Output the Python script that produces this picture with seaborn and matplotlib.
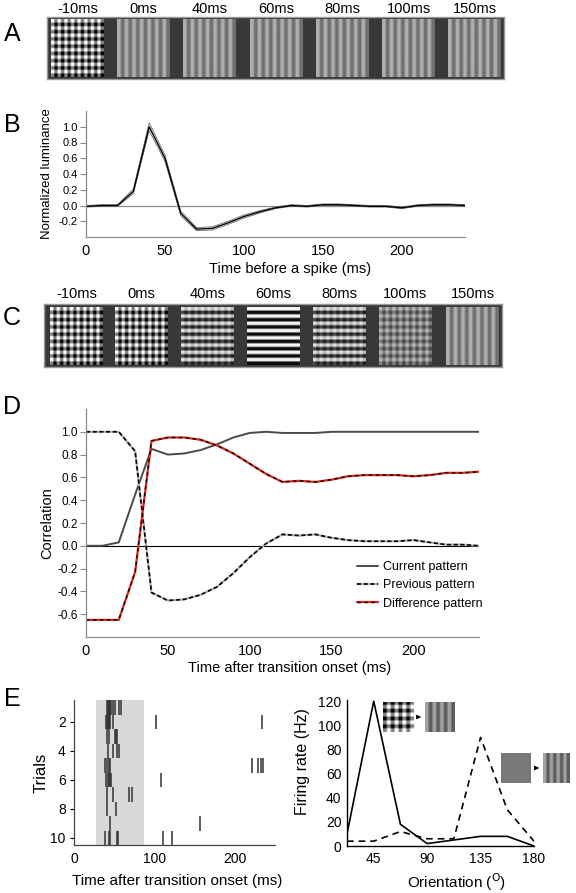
"""
Figure: pattern transition, spike-triggered luminance, correlation and tuning
"""

import numpy as np
import pandas as pd
import matplotlib
matplotlib.use("Agg")
import matplotlib.pyplot as plt
import seaborn as sns
from matplotlib.lines import Line2D
from matplotlib.patches import FancyArrowPatch

# ---------------- data ----------------
tile_labels = ["-10ms", "0ms", "40ms", "60ms", "80ms", "100ms", "150ms"]

# pattern contrast per tile: (vertical, horizontal, mean, periods)
a_tiles = [(0.25, 0.25, 0.5, 8)] + [(0.12, 0.0, 0.56, 7)] * 6
c_tiles = [(0.25, 0.25, 0.5, 8), (0.25, 0.25, 0.5, 8), (0.08, 0.30, 0.5, 8),
           (0.0, 0.45, 0.5, 8), (0.08, 0.30, 0.5, 8), (0.11, 0.11, 0.5, 8),
           (0.12, 0.0, 0.56, 7)]

# B: spike-triggered normalized luminance
b_time = list(range(0, 250, 10))
b_mean = [-0.01, 0.0, 0.0, 0.18, 1.0, 0.6, -0.1, -0.3, -0.29, -0.22,
          -0.14, -0.08, -0.03, 0.0, -0.01, 0.01, 0.01, 0.0, -0.01, -0.01,
          -0.03, 0.0, 0.01, 0.01, 0.0]
b_sem = [0.01, 0.01, 0.01, 0.03, 0.05, 0.04, 0.03, 0.02, 0.02, 0.02,
         0.02, 0.015, 0.01, 0.01, 0.01, 0.01, 0.01, 0.01, 0.01, 0.01,
         0.01, 0.01, 0.01, 0.01, 0.01]

# D: correlation with patterns
d_time = list(range(0, 250, 10))
d_current = [0.0, 0.0, 0.03, 0.45, 0.85, 0.8, 0.81, 0.84, 0.89, 0.95,
             0.99, 1.0, 0.99, 0.99, 0.99, 1.0, 1.0, 1.0, 1.0, 1.0,
             1.0, 1.0, 1.0, 1.0, 1.0]
d_previous = [1.0, 1.0, 1.0, 0.83, -0.41, -0.48, -0.47, -0.43, -0.36, -0.24,
              -0.1, 0.02, 0.1, 0.09, 0.1, 0.07, 0.05, 0.04, 0.04, 0.04,
              0.05, 0.03, 0.01, 0.01, 0.0]
d_difference = [-0.65, -0.65, -0.65, -0.23, 0.92, 0.95, 0.95, 0.93, 0.88, 0.81,
                0.72, 0.63, 0.56, 0.57, 0.56, 0.58, 0.61, 0.62, 0.62, 0.62,
                0.61, 0.62, 0.64, 0.64, 0.65]

# E left: spike raster
e_trials = list(range(1, 11))
e_spikes = [
    [41, 42, 43, 44, 45, 46, 49, 51, 56, 58],
    [40, 41, 42, 43, 44, 45, 49, 102, 234],
    [41, 44, 51, 52, 53],
    [42, 48, 53, 56],
    [39, 41, 43, 45, 222, 229, 232, 235],
    [40, 42, 44, 45, 46, 108],
    [41, 49, 69, 72],
    [41, 52],
    [45, 157],
    [39, 43, 45, 53, 55, 111, 122],
]
e_window = (27, 87)

# E right: orientation tuning
e_orient = [22.5, 45, 67.5, 90, 112.5, 135, 157.5, 180]
e_rate_plaid = [10, 120, 18, 2, 5, 8, 8, 0]
e_rate_blank = [4, 4, 12, 6, 6, 90, 30, 4]

# ---------------- helpers ----------------
W, H = 576, 893


def px_axes(fig, x0, y0, x1, y1):
    return fig.add_axes([x0 / W, 1 - y1 / H, (x1 - x0) / W, (y1 - y0) / H])


def pattern(va, ha, base=0.5, n=8):
    k = np.arange(n * 4)
    sq = np.where((k % 4) < 2, 1.0, -1.0)
    img = base + va * sq[None, :] + ha * sq[:, None]
    return np.clip(img, 0, 1)


def draw_strip(fig, box, tiles, labels, x0s, width, ytile, ylab):
    ax = px_axes(fig, *box)
    ax.set_facecolor("#383838")
    for x0, (va, ha, base, n), lab in zip(x0s, tiles, labels):
        ax.imshow(pattern(va, ha, base, n), cmap="gray", vmin=0, vmax=1,
                  extent=(x0, x0 + width, ytile[1], ytile[0]),
                  interpolation="bilinear", aspect="auto")
        ax.text(x0 + width / 2, ylab, lab, ha="center", va="center",
                fontsize=10.5, clip_on=False)
    ax.set_xlim(box[0], box[2])
    ax.set_ylim(box[3], box[1])
    ax.set_xticks([])
    ax.set_yticks([])
    for s in ax.spines.values():
        s.set_visible(True)
        s.set_color("#9a9a9a")
        s.set_linewidth(1.0)
    return ax


def inset_tile(fig, box, img):
    ax = px_axes(fig, *box)
    ax.imshow(img, cmap="gray", vmin=0, vmax=1, interpolation="bilinear",
              aspect="auto")
    ax.axis("off")


def arrow(fig, x0, x1, y):
    fig.add_artist(FancyArrowPatch((x0 / W, 1 - y / H), (x1 / W, 1 - y / H),
                                   transform=fig.transFigure, arrowstyle="-|>",
                                   mutation_scale=6, lw=0.8, color="k"))


def style_spines(ax, color, lw=0.9):
    for side in ["top", "right"]:
        ax.spines[side].set_visible(False)
    for side in ["left", "bottom"]:
        ax.spines[side].set_color(color)
        ax.spines[side].set_linewidth(lw)


# ---------------- figure ----------------
sns.set_style("ticks")
plt.rcParams["font.family"] = ["Liberation Sans", "DejaVu Sans"]
plt.rcParams["text.color"] = "black"
plt.rcParams["axes.labelcolor"] = "black"
plt.rcParams["xtick.color"] = "black"
plt.rcParams["ytick.color"] = "black"

fig = plt.figure(figsize=(W / 100, H / 100), dpi=100)

for letter, (x, y) in zip("ABCDE", [(12, 34), (12, 125), (12, 318), (12, 407), (12, 699)]):
    fig.text(x / W, 1 - y / H, letter, fontsize=18, ha="center", va="center")

# A
a_x0 = [51, 117, 183, 250, 316, 382, 448]
draw_strip(fig, (47, 17, 504, 79), a_tiles, tile_labels, a_x0, 53, (19, 77), 9)

# C
c_x0 = [50, 115, 181, 247, 313, 379, 446]
draw_strip(fig, (44, 304, 502, 367), c_tiles, tile_labels, c_x0, 53, (307, 365), 294)

# B
axb = px_axes(fig, 86, 111, 465, 237)
dfb = pd.DataFrame({"t": b_time, "m": b_mean, "s": b_sem})
axb.axhline(0, color="#8c8c8c", lw=0.9)
sns.lineplot(x=dfb["t"], y=dfb["m"] + dfb["s"], ax=axb, color="#6e6e6e", lw=0.6)
sns.lineplot(x=dfb["t"], y=dfb["m"] - dfb["s"], ax=axb, color="#6e6e6e", lw=0.6)
sns.lineplot(data=dfb, x="t", y="m", ax=axb, color="black", lw=1.0)
axb.set_xlim(0, 240)
axb.set_ylim(-0.4, 1.2)
axb.set_xticks([0, 50, 100, 150, 200])
axb.set_yticks([-0.2, 0.0, 0.2, 0.4, 0.6, 0.8, 1.0])
axb.set_yticklabels(["-0.2", "0.0", "0.2", "0.4", "0.6", "0.8", "1.0"])
axb.tick_params(axis="x", length=0, labelsize=10.5, pad=5)
axb.tick_params(axis="y", length=4, width=0.8, color="#8c8c8c", labelsize=8, pad=2)
axb.set_xlabel("Time before a spike (ms)", fontsize=10.5)
axb.set_ylabel("Normalized luminance", fontsize=9.5)
axb.xaxis.set_label_coords(0.538, -0.2)
axb.yaxis.set_label_coords(-0.087, 0.5)
style_spines(axb, "#8c8c8c")

# D
axd = px_axes(fig, 86, 409, 479, 637)
dfd = pd.DataFrame({"t": d_time, "cur": d_current, "prev": d_previous,
                    "diff": d_difference})
axd.axhline(0, color="black", lw=0.8)
sns.lineplot(data=dfd, x="t", y="cur", ax=axd, color="#4a4a4a", lw=1.4)
sns.lineplot(data=dfd, x="t", y="prev", ax=axd, color="#b5b5b5", lw=1.6)
sns.lineplot(data=dfd, x="t", y="prev", ax=axd, color="black", lw=1.2,
             linestyle=(0, (2.5, 1.5)))
sns.lineplot(data=dfd, x="t", y="diff", ax=axd, color="#e0241b", lw=1.6)
sns.lineplot(data=dfd, x="t", y="diff", ax=axd, color="black", lw=1.0,
             linestyle=(0, (2.5, 2.5)))
axd.set_xlim(0, 240)
axd.set_ylim(-0.8, 1.2)
axd.set_xticks([0, 50, 100, 150, 200])
axd.set_yticks([-0.6, -0.4, -0.2, 0.0, 0.2, 0.4, 0.6, 0.8, 1.0])
axd.set_yticklabels(["-0.6", "-0.4", "-0.2", "0.0", "0.2", "0.4", "0.6", "0.8", "1.0"])
axd.tick_params(axis="x", length=0, labelsize=10.5, pad=5)
axd.tick_params(axis="y", length=4, width=0.8, color="#8c8c8c", labelsize=8.5, pad=2)
axd.set_xlabel("Time after transition onset (ms)", fontsize=10.5)
axd.set_ylabel("Correlation", fontsize=10.5)
axd.xaxis.set_label_coords(0.519, -0.105)
axd.yaxis.set_label_coords(-0.082, 0.5)
style_spines(axd, "#8c8c8c")

h_cur = Line2D([], [], color="#4a4a4a", lw=1.4)
h_prev = (Line2D([], [], color="#b5b5b5", lw=1.6),
          Line2D([], [], color="black", lw=1.2, linestyle=(0, (2.5, 1.5))))
h_diff = (Line2D([], [], color="#e0241b", lw=1.6),
          Line2D([], [], color="black", lw=1.0, linestyle=(0, (2.5, 2.5))))
axd.legend([h_cur, h_prev, h_diff],
           ["Current pattern", "Previous pattern", "Difference pattern"],
           loc="upper left", bbox_to_anchor=(357 / W, 1 - 561 / H),
           bbox_transform=fig.transFigure, frameon=False, fontsize=9,
           handlelength=1.7, handletextpad=0.4, labelspacing=0.5,
           borderpad=0, borderaxespad=0)

# E left: raster
axe = px_axes(fig, 74, 700, 275, 845)
axe.axvspan(*e_window, color="#d8d8d8", lw=0)
for trial, spikes in zip(e_trials, e_spikes):
    axe.vlines(spikes, trial - 0.5, trial + 0.5, color="#333333", lw=1.1)
axe.set_xlim(0, 250)
axe.set_ylim(10.5, 0.5)
axe.set_xticks([0, 100, 200])
axe.set_yticks([2, 4, 6, 8, 10])
axe.tick_params(axis="x", length=0, labelsize=10, pad=5)
axe.tick_params(axis="y", length=3, width=0.8, labelsize=10, pad=3)
axe.set_xlabel("Time after transition onset (ms)", fontsize=11)
axe.set_ylabel("Trials", fontsize=12)
axe.xaxis.set_label_coords(0.511, -0.2)
axe.yaxis.set_label_coords(-0.128, 0.5)
style_spines(axe, "#444444")

# E right: tuning
axt = px_axes(fig, 347, 700, 534, 846)
dft = pd.DataFrame({"ori": e_orient, "plaid": e_rate_plaid, "blank": e_rate_blank})
sns.lineplot(data=dft, x="ori", y="plaid", ax=axt, color="black", lw=1.2)
sns.lineplot(data=dft, x="ori", y="blank", ax=axt, color="black", lw=1.2,
             linestyle=(0, (4, 3)))
axt.set_xlim(22.5, 180)
axt.set_ylim(0, 121)
axt.set_xticks([45, 90, 135, 180])
axt.set_yticks([0, 20, 40, 60, 80, 100, 120])
axt.tick_params(axis="both", length=0, labelsize=10, pad=4)
axt.set_xlabel("Orientation ($^{\\mathrm{O}}$)", fontsize=11)
axt.set_ylabel("Firing rate (Hz)", fontsize=11.5)
axt.xaxis.set_label_coords(0.586, -0.175)
axt.yaxis.set_label_coords(-0.2, 0.58)
style_spines(axt, "black", 1.0)

# insets in tuning panel
inset_tile(fig, (383, 702, 413, 732), pattern(-0.25, -0.25, 0.5, n=4))
arrow(fig, 415, 424, 717)
inset_tile(fig, (425, 702, 455, 732), pattern(0.13, 0.0, 0.5, n=4))
inset_tile(fig, (501, 753, 531, 783), np.full((4, 4), 0.47))
arrow(fig, 533, 542, 768)
inset_tile(fig, (543, 753, 570, 783), pattern(0.13, 0.0, 0.5, n=4))

plt.savefig("out.png", dpi=100)
plt.close()
